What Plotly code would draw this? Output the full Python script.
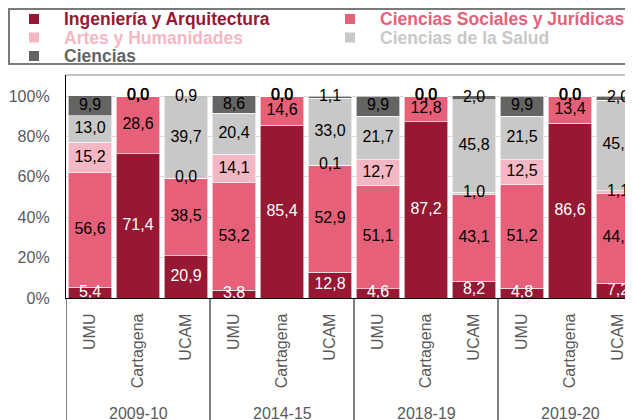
import plotly.graph_objects as go

years = ["2009-10", "2014-15", "2018-19", "2019-20"]
universities = ["UMU", "Cartagena", "UCAM"]

series_names = ["Ingeniería y Arquitectura", "Ciencias Sociales y Jurídicas",
                "Artes y Humanidades", "Ciencias de la Salud", "Ciencias"]
ingenieria = [5.4, 71.4, 20.9, 3.8, 85.4, 12.8, 4.6, 87.2, 8.2, 4.8, 86.6, 7.2]
sociales = [56.6, 28.6, 38.5, 53.2, 14.6, 52.9, 51.1, 12.8, 43.1, 51.2, 13.4, 44.7]
artes = [15.2, 0.0, 0.0, 14.1, 0.0, 0.1, 12.7, 0.0, 1.0, 12.5, 0.0, 1.1]
salud = [13.0, 0.0, 39.7, 20.4, 0.0, 33.0, 21.7, 0.0, 45.8, 21.5, 0.0, 45.0]
ciencias = [9.9, 0.0, 0.9, 8.6, 0.0, 1.1, 9.9, 0.0, 2.0, 9.9, 0.0, 2.0]
y_ticks = [0, 20, 40, 60, 80, 100]

colors = ["#961832", "#E6607A", "#F4B7C3", "#C8C8C8", "#646464"]
label_colors = ["white", "black", "black", "black", "black"]

FONT = "Liberation Sans, Arial, sans-serif"
GREY = "#595959"

# the page puts the figure 8px in from the top-left corner
OFF = 8
W, H = 633, 420
# plot area as seen in the screenshot
L, R, T, B = 66, 633, 75, 298


def px_x(px):
    return (px - L) / (R - L)


def px_y(py):
    return (B - py) / (B - T)


series = [ingenieria, sociales, artes, salud, ciencias]
n = len(ingenieria)
xs = list(range(n))
totals = [sum(s[i] for s in series) for i in range(n)]

fig = go.Figure()
for name, vals, col in zip(series_names, series, colors):
    fig.add_trace(go.Bar(x=xs, y=vals, name=name, marker_color=col,
                         marker_line=dict(color="white", width=0.6),
                         showlegend=False))

# value labels in the middle of every segment
base = [0.0] * n
for vals, tcol in zip(series, label_colors):
    mids = []
    for i in range(n):
        v = vals[i] / totals[i] * 100
        mids.append(base[i] + v / 2)
        base[i] += v
    fig.add_trace(go.Scatter(
        x=xs, y=mids, mode="text", text=[f"{v:.1f}".replace(".", ",") for v in vals],
        textfont=dict(family=FONT, size=16, color=tcol), cliponaxis=False,
        hoverinfo="skip", showlegend=False))

shapes = []
annotations = []

# legend box
shapes.append(dict(type="rect", xref="paper", yref="paper",
                   x0=px_x(9), x1=px_x(700), y0=px_y(9), y1=px_y(64),
                   line=dict(color="#7A7A7A", width=2), fillcolor="rgba(0,0,0,0)"))
legend_pos = [(34, 19), (350, 19), (34, 37.5), (350, 37.5), (34, 56)]
for name, col, (lx, ly) in zip(series_names, colors, legend_pos):
    shapes.append(dict(type="rect", xref="paper", yref="paper",
                       x0=px_x(lx - 5), x1=px_x(lx + 5), y0=px_y(ly - 5), y1=px_y(ly + 5),
                       line=dict(width=0), fillcolor=col))
    annotations.append(dict(xref="paper", yref="paper", x=px_x(lx + 28), y=px_y(ly),
                            xanchor="left", yanchor="middle", showarrow=False,
                            text="<b>" + name + "</b>",
                            font=dict(family=FONT, size=17.5, color=col)))

# top border of plot area
shapes.append(dict(type="line", xref="paper", yref="paper", x0=0, x1=1.05, y0=1, y1=1,
                   line=dict(color="#8C8C8C", width=1)))

# group dividers below axis
for k in range(len(years) + 1):
    shapes.append(dict(type="line", xref="x", yref="paper",
                       x0=k * 3 - 0.5, x1=k * 3 - 0.5, y0=0, y1=-0.6,
                       line=dict(color="black", width=1)))

for k, yr in enumerate(years):
    annotations.append(dict(xref="x", yref="paper", x=k * 3 + 1, y=px_y(413),
                            xanchor="center", yanchor="middle", showarrow=False,
                            text=yr, font=dict(family=FONT, size=16, color=GREY)))

fig.update_layout(
    width=W, height=H, autosize=False,
    margin=dict(l=L - OFF, r=W - (R - OFF), t=T - OFF, b=H - (B - OFF), pad=0),
    barmode="stack", bargap=0.09,
    plot_bgcolor="white", paper_bgcolor="white",
    font=dict(family=FONT, size=16, color=GREY),
    shapes=shapes, annotations=annotations,
    xaxis=dict(range=[-0.5, -0.5 + (R - L) / 48], tickvals=xs,
               ticktext=universities * len(years), tickangle=-90,
               showgrid=False, zeroline=False, showline=True, linecolor="black",
               linewidth=1.3, ticks="", ticklabelstandoff=8, automargin=False,
               tickfont=dict(family=FONT, size=16, color=GREY)),
    yaxis=dict(range=[0, 100 * (B - T) / 202], tickvals=y_ticks,
               ticktext=[f"{t}%" for t in y_ticks],
               showgrid=True, gridcolor="#D9D9D9", gridwidth=1,
               zeroline=False, showline=True, linecolor="black", linewidth=1.3,
               ticks="", ticklabelstandoff=12, automargin=False,
               tickfont=dict(family=FONT, size=16, color=GREY)),
)

fig.write_html("out.html")
